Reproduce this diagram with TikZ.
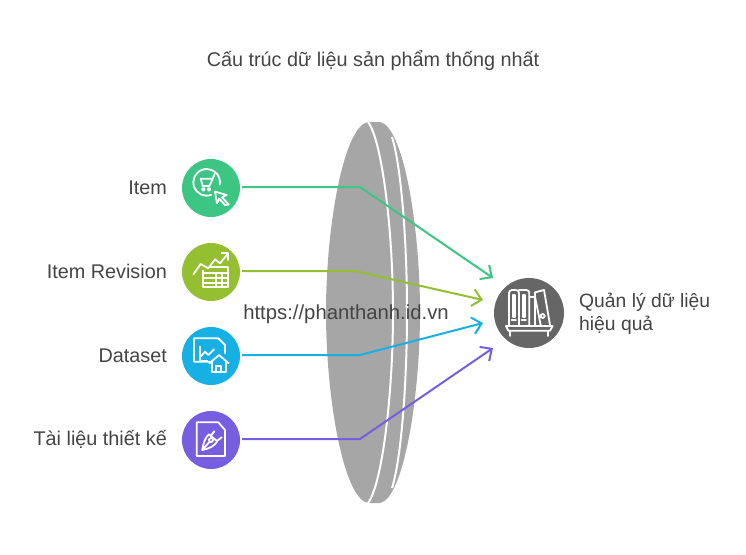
\documentclass[tikz,border=0pt]{standalone}
\usepackage{fontspec}
\setmainfont{Liberation Sans}
\usetikzlibrary{arrows.meta}
\definecolor{cgreen}{HTML}{3CC583}
\definecolor{colive}{HTML}{93BF30}
\definecolor{cblue}{HTML}{17B0E4}
\definecolor{cpurple}{HTML}{775DE0}
\definecolor{chub}{HTML}{666666}
\definecolor{clens}{HTML}{A6A6A6}
\definecolor{ctext}{HTML}{444444}
\tikzset{
  disc/.style={circle,fill=#1,minimum size=58pt,inner sep=0pt,outer sep=2pt},
  lbl/.style={inner sep=0pt,text=ctext,font=\fontsize{19.8}{23}\selectfont},
  link/.style={draw=#1,line width=2pt,-{Straight Barb[length=9pt,width=17pt,line width=2pt]}},
  seam/.style={draw=white,line width=2pt},
  icon/.style={draw=white,line width=1.8pt,line cap=round,line join=round},
}
\begin{document}
\begin{tikzpicture}[x=1pt,y=-1pt]
\useasboundingbox (0,0) rectangle (746,554);
% lens
\fill[clens] (368,122) .. controls (344,126) and (326,225) .. (326,312)
  .. controls (326,400) and (344,499) .. (368,503)
  -- (380,503) .. controls (403,499) and (420,400) .. (420,312)
  .. controls (420,225) and (403,126) .. (380,122) -- cycle;
\draw[seam] (368,122) .. controls (382,140) and (393,230) .. (393,312)
  .. controls (393,395) and (382,485) .. (368,503);
\draw[seam] (392,137) .. controls (401,165) and (407,240) .. (407,312)
  .. controls (407,385) and (401,460) .. (392,488);
% nodes
\node[lbl] (title) at (373,61) {Cấu trúc dữ liệu sản phẩm thống nhất};
\node[disc=cgreen] (c1) at (211,188) {};
\node[disc=colive] (c2) at (211,272) {};
\node[disc=cblue] (c3) at (211,356) {};
\node[disc=cpurple] (c4) at (211,440) {};
\node[circle,fill=chub,minimum size=70pt,inner sep=0pt] (hub) at (529,313) {};
\node[lbl,anchor=east] (l1) at (167,187.5) {Item};
\node[lbl,anchor=east] (l2) at (167,271.5) {Item Revision};
\node[lbl,anchor=east] (l3) at (167,355.5) {Dataset};
\node[lbl,anchor=east] (l4) at (167,439.5) {Tài liệu thiết kế};
\node[lbl,anchor=west,align=left,font=\fontsize{19.3}{23}\selectfont] (res) at (579,314) {Quản lý dữ liệu\\hiệu quả};
\node[lbl,font=\fontsize{20.3}{23}\selectfont] (url) at (346,314) {https://phanthanh.id.vn};
% connector points
\coordinate (b1) at (360,187); \coordinate (t1) at (493,278);
\coordinate (b2) at (355,271); \coordinate (t2) at (483,300);
\coordinate (b3) at (360,355); \coordinate (t3) at (483,323);
\coordinate (b4) at (360,439); \coordinate (t4) at (493,348);
\draw[link=cgreen] (c1.east |- b1) -- (b1) -- (t1);
\draw[link=colive] (c2.east |- b2) -- (b2) -- (t2);
\draw[link=cblue] (c3.east |- b3) -- (b3) -- (t3);
\draw[link=cpurple] (c4.east |- b4) -- (b4) -- (t4);
% icon: cart
\begin{scope}[shift={(170,150)},scale=1/3,icon]
\draw (110,97) ++(70:40) arc[start angle=70,end angle=370,radius=40];
\draw (134,72) -- (122,100) -- (118,108) -- (98,108) -- (92,86) -- (126,86);
\draw (100,118) circle (4); \draw (117,118) circle (4);
\draw (135,125) -- (170,135) -- (156,142) -- (176,163) -- (166,166) -- (148,146) -- (141,160) -- cycle;
\end{scope}
% icon: chart and table
\begin{scope}[shift={(170,150)},scale=1/3,icon]
\draw (70,373) -- (92,342) -- (115,355) -- (135,328) -- (150,340) -- (173,312);
\draw (155,310) -- (174,310) -- (174,330);
\draw (122,352) -- (175,352) -- (175,412) -- (100,412) -- (100,362);
\draw (100,370) -- (175,370) (100,385) -- (175,385) (100,400) -- (175,400);
\draw (138,370) -- (138,412) (155,370) -- (155,412);
\end{scope}
% icon: document and house
\begin{scope}[shift={(170,320)},scale=1/3,icon]
\draw (165,100) -- (165,75) -- (145,55) -- (72,55) -- (72,125) -- (118,125);
\draw (90,80) -- (90,122) -- (112,122);
\draw (90,112) -- (105,95) -- (115,105) -- (132,88);
\draw (118,130) -- (147,105) -- (176,130);
\draw (125,125) -- (125,157) -- (168,157) -- (168,125);
\draw (138,157) -- (138,138) -- (152,138) -- (152,157);
\end{scope}
% icon: document and pen
\begin{scope}[shift={(170,320)},scale=1/3,icon]
\draw (80,307) -- (145,307) -- (165,330) -- (165,408) -- (80,408) -- cycle;
\draw (97,390) .. controls (100,368) and (106,352) .. (117,343)
  -- (142,364) .. controls (133,378) and (118,386) .. (97,390);
\draw (97,390) -- (118,366);
\draw (123,360) circle (6);
\draw (124,345) -- (133,334) (142,362) -- (155,352);
\end{scope}
% icon: books
\begin{scope}[shift={(470,260)},scale=1/3,icon]
\draw[rounded corners=3pt] (117,195) -- (117,90) -- (147,90) -- (147,195);
\draw[rounded corners=3pt] (147,90) -- (178,90) -- (178,195);
\draw (178,110) -- (195,110);
\draw (195,195) -- (195,97) -- (222,90) -- (240,195);
\draw (195,110) -- (212,195);
\draw (128,105) rectangle (136,170);
\draw (158,105) rectangle (166,170);
\draw (125,180) -- (138,180) (155,180) -- (168,180);
\draw (218,168) circle (6);
\draw (108,198) -- (248,198) -- (240,212) -- (115,212) -- cycle;
\draw (120,212) -- (120,228) (235,212) -- (235,228);
\end{scope}
\end{tikzpicture}
\end{document}
